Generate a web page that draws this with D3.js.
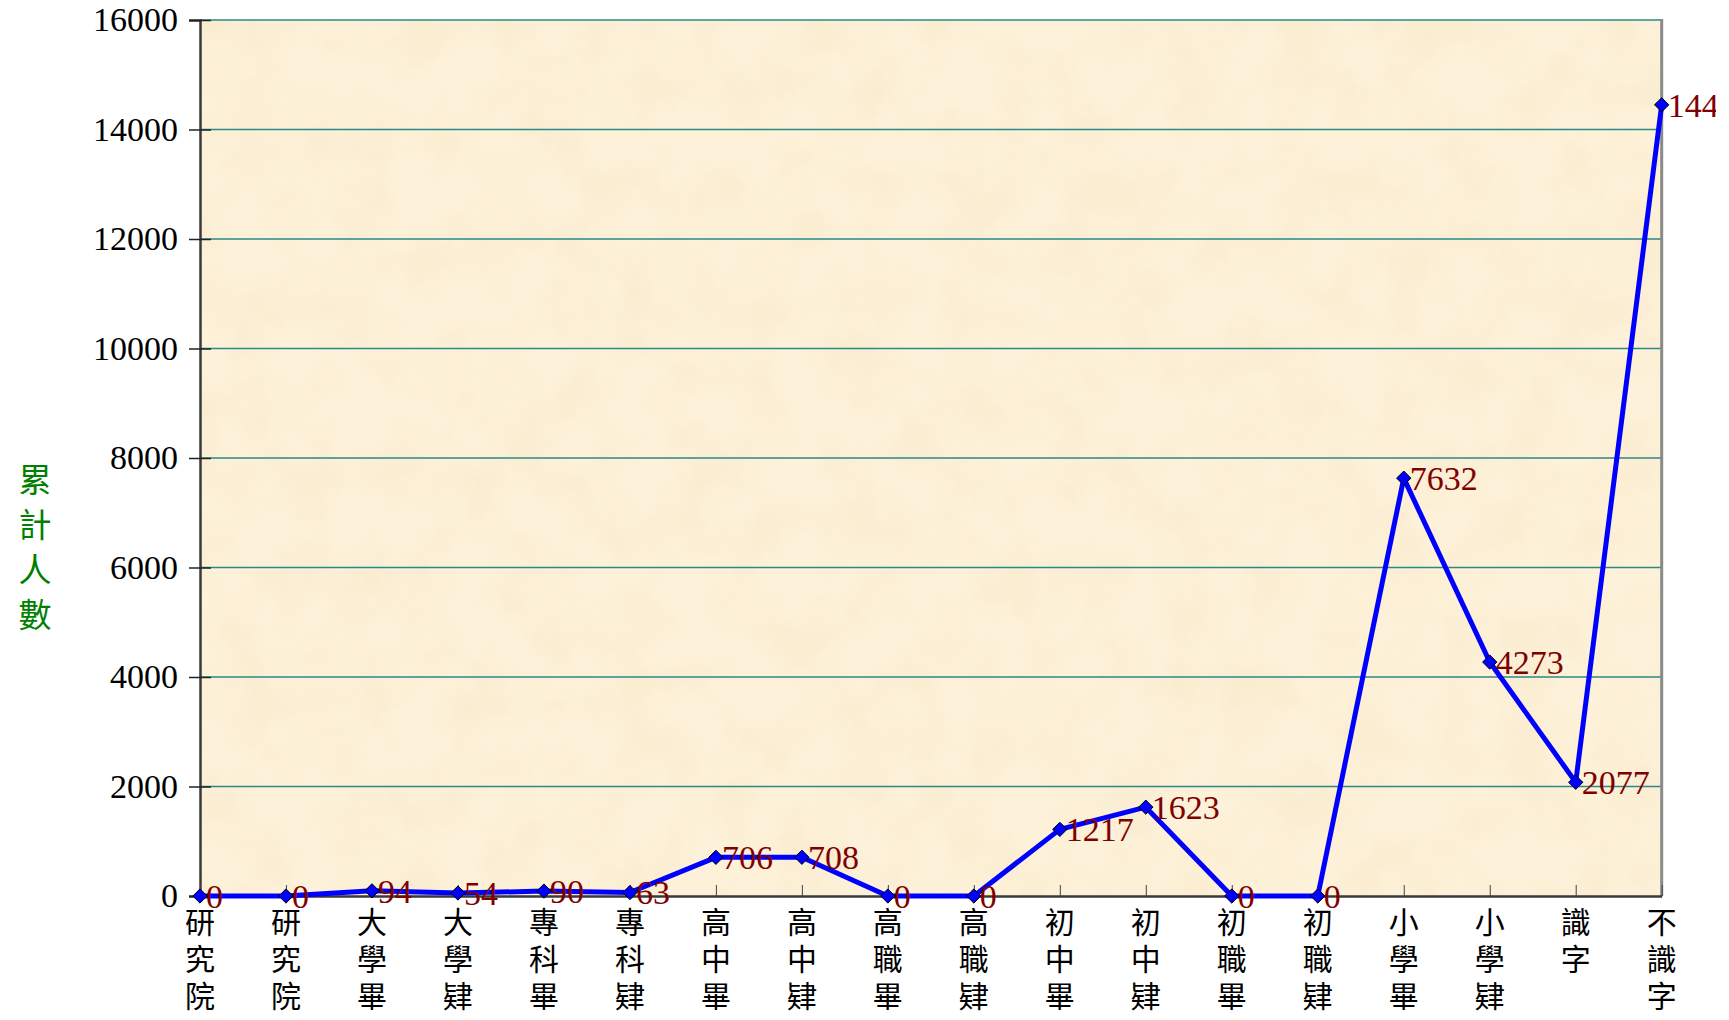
<!DOCTYPE html>
<html>
<head>
<meta charset="utf-8">
<script src="https://cdn.jsdelivr.net/npm/d3@7"></script>
<style>
  body { margin: 0; background: #fff; }
  svg { display: block; }
</style>
</head>
<body>
<div id="chart"></div>
<script>
// 學歷別 累計人數
const categories = ["研究院", "研究院", "大學畢", "大學肄", "專科畢", "專科肄", "高中畢", "高中肄", "高職畢",
    "高職肄", "初中畢", "初中肄", "初職畢", "初職肄", "小學畢", "小學肄", "識字", "不識字"];
const values = [0, 0, 94, 54, 90, 63, 706, 708, 0, 0, 1217, 1623, 0, 0, 7632, 4273, 2077, 14451];
const yTicks = [0, 2000, 4000, 6000, 8000, 10000, 12000, 14000, 16000];
const yTitle = "累計人數";

const W = 1716, H = 1020;
const plotL = 200, plotR = 1661.7, plotT = 20, plotB = 896;

const svg = d3.select("#chart").append("svg")
    .attr("width", W)
    .attr("height", H);

// 羊皮紙背景
const defs = svg.append("defs");
const filt = defs.append("filter").attr("id", "parchment")
    .attr("x", 0).attr("y", 0).attr("width", "100%").attr("height", "100%");
filt.append("feTurbulence")
    .attr("type", "fractalNoise")
    .attr("baseFrequency", 0.018)
    .attr("numOctaves", 4)
    .attr("seed", 7);
filt.append("feColorMatrix")
    .attr("type", "matrix")
    .attr("values", "0 0 0 0 0.85  0 0 0 0 0.72  0 0 0 0 0.45  0 0 0 -2.2 1.35");

const x = d3.scalePoint()
    .domain(d3.range(categories.length))
    .range([plotL, plotR]);

const y = d3.scaleLinear()
    .domain([0, 16000])
    .range([plotB, plotT]);

svg.append("rect")
    .attr("x", plotL).attr("y", plotT)
    .attr("width", plotR - plotL).attr("height", plotB - plotT)
    .attr("fill", "#fdf1d9");
svg.append("rect")
    .attr("x", plotL).attr("y", plotT)
    .attr("width", plotR - plotL).attr("height", plotB - plotT)
    .attr("filter", "url(#parchment)")
    .attr("opacity", 0.22);

// 格線
svg.append("g")
    .selectAll("line")
    .data(yTicks.filter(d => d > 0))
    .join("line")
    .attr("x1", plotL).attr("x2", plotR)
    .attr("y1", d => y(d)).attr("y2", d => y(d))
    .attr("stroke", "#2a8a86")
    .attr("stroke-width", 1.5);

// 右框
svg.append("line")
    .attr("x1", plotR).attr("x2", plotR)
    .attr("y1", plotT - 1).attr("y2", plotB)
    .attr("stroke", "#8a8a8a")
    .attr("stroke-width", 3);

// Y 軸
const yAxis = svg.append("g")
    .attr("transform", "translate(" + plotL + ",0)")
    .call(d3.axisLeft(y).tickValues(yTicks).tickFormat(d3.format("d")).tickSize(11).tickPadding(11));
yAxis.select(".domain").attr("stroke", "#3a3a3a").attr("stroke-width", 2.5);
yAxis.selectAll(".tick line").attr("x2", 11).attr("x1", -11).attr("stroke", "#222").attr("stroke-width", 1.5);
yAxis.selectAll(".tick text")
    .attr("x", -22)
    .attr("font-family", "'Liberation Serif', 'Times New Roman', serif")
    .attr("font-size", 34)
    .attr("fill", "#000");

// X 軸
const xAxis = svg.append("g")
    .attr("transform", "translate(0," + plotB + ")")
    .call(d3.axisBottom(x).tickSize(0).tickFormat(""));
xAxis.select(".domain").attr("stroke", "#3a3a3a").attr("stroke-width", 2.5);
xAxis.selectAll(".tick line").attr("y2", -11).attr("stroke", "#444").attr("stroke-width", 1);

const xl = svg.append("g")
    .selectAll("text")
    .data(categories)
    .join("text")
    .attr("font-family", "'Noto Sans CJK TC', sans-serif")
    .attr("font-size", 30)
    .attr("fill", "#000")
    .attr("text-anchor", "middle");
xl.each(function (d, i) {
    d3.select(this).selectAll("tspan")
        .data(Array.from(d))
        .join("tspan")
        .attr("x", x(i))
        .attr("y", (c, k) => 933 + k * 37)
        .text(c => c);
});

// 折線
const line = d3.line()
    .x((d, i) => x(i))
    .y(d => y(d));

svg.append("path")
    .datum(values)
    .attr("fill", "none")
    .attr("stroke", "#0000ff")
    .attr("stroke-width", 5)
    .attr("stroke-linejoin", "round")
    .attr("d", line);

svg.append("g")
    .selectAll("path")
    .data(values)
    .join("path")
    .attr("transform", (d, i) => "translate(" + x(i) + "," + y(d) + ")")
    .attr("d", d3.symbol(d3.symbolDiamond2, 130))
    .attr("fill", "#0000ff")
    .attr("stroke", "#000")
    .attr("stroke-width", 1);

// 數值標籤
svg.append("g")
    .selectAll("text")
    .data(values)
    .join("text")
    .attr("x", (d, i) => x(i) + 6)
    .attr("y", d => y(d))
    .attr("dy", "0.35em")
    .attr("font-family", "'Liberation Serif', 'Times New Roman', serif")
    .attr("font-size", 34)
    .attr("fill", "#800000")
    .text(d => d);

// Y 軸標題
svg.append("text")
    .attr("font-family", "'Noto Sans CJK TC', sans-serif")
    .attr("font-size", 33)
    .attr("fill", "#008000")
    .attr("text-anchor", "middle")
    .selectAll("tspan")
    .data(Array.from(yTitle))
    .join("tspan")
    .attr("x", 35)
    .attr("y", (c, k) => 492 + k * 45)
    .text(c => c);
</script>
</body>
</html>
